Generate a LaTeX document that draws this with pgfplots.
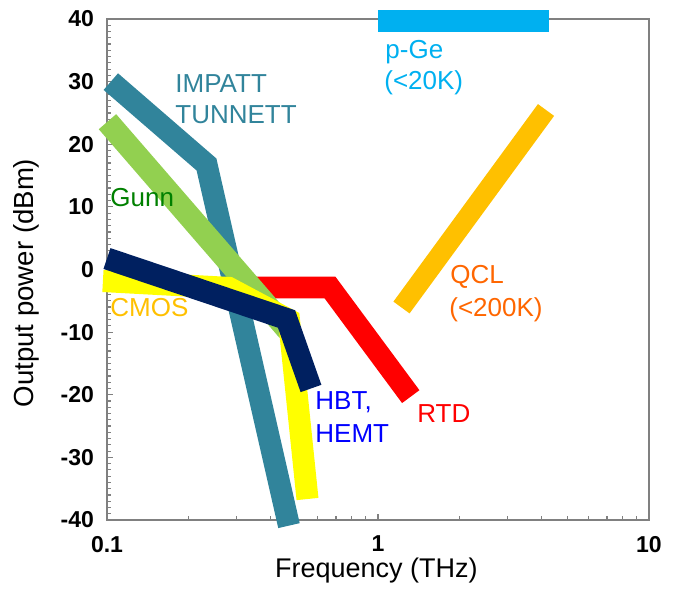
\documentclass[border=0pt]{standalone}
\usepackage{fontspec}
\setmainfont{Liberation Sans}
\usepackage{pgfplots}
\pgfplotsset{compat=1.18}
\definecolor{cTeal}{HTML}{31849B}
\definecolor{cGunn}{HTML}{92D050}
\definecolor{cGunnTxt}{HTML}{008000}
\definecolor{cNavy}{HTML}{002060}
\definecolor{cYellow}{HTML}{FFFF00}
\definecolor{cCMOS}{HTML}{FFC000}
\definecolor{cQCL}{HTML}{FFC000}
\definecolor{cQCLTxt}{HTML}{FF6600}
\definecolor{cPGe}{HTML}{00B0F0}
\definecolor{cHBT}{HTML}{0000FF}
\definecolor{cRTD}{HTML}{FF0000}
\begin{document}
\begin{tikzpicture}
\begin{axis}[
  scale only axis, width=271pt, height=250.5pt,
  xmode=log, xmin=0.1, xmax=10, ymin=-40, ymax=40,
  xtick={0.1,1,10}, xticklabels={0.1,1,10},
  minor xtick={0.2,0.3,0.4,0.5,0.6,0.7,0.8,0.9,2,3,4,5,6,7,8,9},
  ytick={-40,-30,-20,-10,0,10,20,30,40},
  yticklabels={-40,-30,-20,-10,0,10,20,30,40},
  minor y tick num=9,
  tick pos=left, tick align=inside,
  axis line style={draw=gray, line width=0.75pt},
  tick style={draw=gray, line width=0.6pt},
  major tick length=3pt, minor tick length=2pt,
  ticklabel style={font=\bfseries\fontsize{11.5}{13}\selectfont, text=black},
  xticklabel style={yshift=-4.5pt},
  yticklabel style={xshift=-3pt},
  xlabel={Frequency (THz)},
  ylabel={Output power (dBm)},
  xlabel style={font=\fontsize{13.5}{16}\selectfont, at={(axis description cs:0.497,-0.1138)}, anchor=base, inner sep=0pt},
  ylabel style={font=\fontsize{13.8}{16}\selectfont, at={(axis description cs:-0.1485,0.473)}, anchor=center, inner sep=0pt},
  clip=false,
  every axis plot/.append style={line join=miter, line cap=butt, no markers},
]
% IMPATT / TUNNETT
\addplot[draw=cTeal, line width=11pt] coordinates {(0.1033,30.0) (0.2329,16.77) (0.4694,-40.9)};
% RTD
\addplot[draw=cRTD, line width=10.8pt] coordinates {(0.335,-2.87) (0.665,-2.87) (1.321,-20.3)};
% Gunn
\addplot[draw=cGunn, line width=11.5pt] coordinates {(0.1004,23.6) (0.466,-9.7)};
% CMOS
\addplot[draw=cYellow, line width=11pt] coordinates {(0.0966,-1.84) (0.2817,-2.94) (0.4694,-8.06) (0.5494,-36.65)};
% HBT, HEMT
\addplot[draw=cNavy, line width=11pt] coordinates {(0.1,1.75) (0.4597,-7.9) (0.566,-19.0)};
% QCL
\addplot[draw=cQCL, line width=10pt] coordinates {(1.221,-6.07) (4.169,25.47)};
% p-Ge
\addplot[draw=cPGe, line width=11pt] coordinates {(1.0,39.7) (4.276,39.7)};

\begin{scope}[every node/.style={inner sep=0pt, anchor=base west, font=\fontsize{13}{15}\selectfont}]
\node[text=cTeal] at (rel axis cs:0.1255,0.8543) {IMPATT};
\node[text=cTeal] at (rel axis cs:0.1255,0.7924) {TUNNETT};
\node[text=cGunnTxt] at (rel axis cs:0.0055,0.6248) {Gunn};
\node[text=cCMOS] at (rel axis cs:0.0055,0.4052) {CMOS};
\node[text=cHBT] at (rel axis cs:0.3838,0.2196) {HBT,};
\node[text=cHBT] at (rel axis cs:0.3838,0.1537) {HEMT};
\node[text=cRTD] at (rel axis cs:0.572,0.1936) {RTD};
\node[text=cQCLTxt] at (rel axis cs:0.6328,0.473) {QCL};
\node[text=cQCLTxt] at (rel axis cs:0.6310,0.407) {(<200K)};
\node[text=cPGe] at (rel axis cs:0.513,0.921) {p-Ge};
\node[text=cPGe] at (rel axis cs:0.511,0.859) {(<20K)};
\end{scope}
\end{axis}
\pgfresetboundingbox
\path[use as bounding box] (-53.5pt,-38.5pt) rectangle (284pt,260pt);
\end{tikzpicture}
\end{document}
